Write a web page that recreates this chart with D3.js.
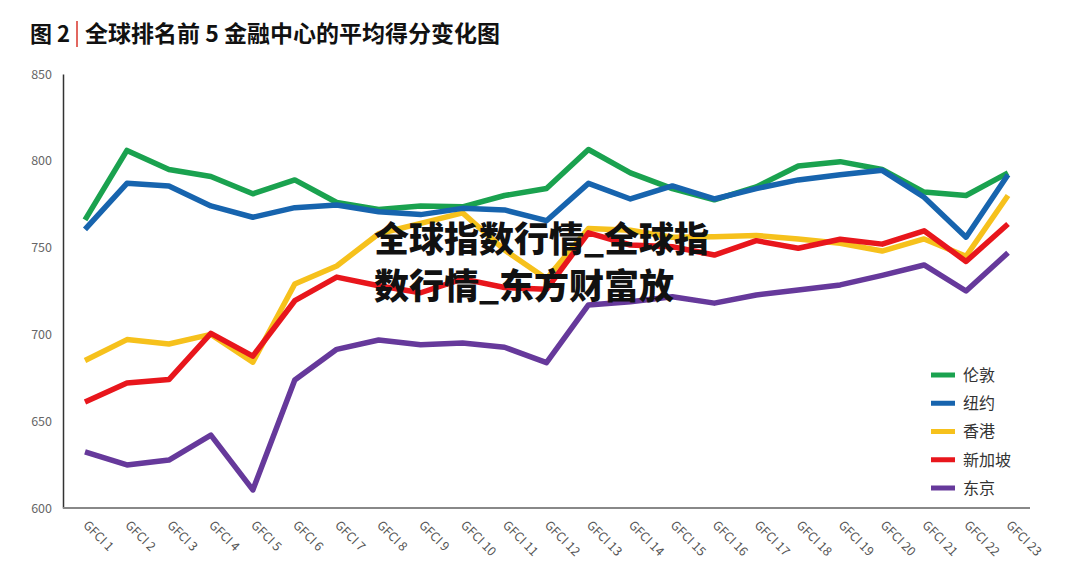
<!DOCTYPE html>
<html>
<head>
<meta charset="utf-8">
<script src="https://cdn.jsdelivr.net/npm/d3@7"></script>
<style>
  html, body { margin: 0; padding: 0; background: #fff; }
  svg { display: block; }
  text { font-family: "Noto Sans CJK SC", "Noto Sans", sans-serif; }
</style>
</head>
<body>
<svg id="chart" width="1080" height="584"></svg>
<script>
const categories = d3.range(1, 24).map(i => "GFCI " + i);
const yTicks = [600, 650, 700, 750, 800, 850];
const seriesNames = ["伦敦", "纽约", "香港", "新加坡", "东京"];
const seriesColors = ["#1aa24f", "#1764ae", "#f6c11c", "#e8161c", "#66399b"];

const london    = [766, 806, 795, 791, 781, 789, 776, 772, 774, 773.5, 780, 784, 806.5, 793, 784, 777.5, 785, 797, 799.5, 795, 782, 780, 793];
const newYork   = [760.5, 787, 785.5, 774, 767.5, 773, 774.5, 770.7, 769, 772.6, 771.7, 765.5, 787, 778, 785.5, 778, 784, 789, 792, 794.5, 779, 756, 792];
const hongKong  = [685, 697, 694.5, 700, 684, 729, 739.4, 758, 764, 770, 748.6, 732, 761, 760, 756, 756.3, 757, 755, 752.5, 748, 755, 745, 780];
const singapore = [661, 672, 674, 700.6, 687.5, 719.4, 733, 728, 724, 732, 727, 726, 758.5, 751.5, 750.5, 745.7, 754, 749.6, 754.8, 752, 759.7, 742, 763.6];
const tokyo     = [632.4, 624.8, 627.6, 642, 610.4, 673.7, 691.4, 696.8, 694, 695, 692.6, 683.7, 717, 718.8, 721.7, 718, 722.7, 725.6, 728.5, 734, 740, 725, 747];

const seriesValues = [london, newYork, hongKong, singapore, tokyo];
const titleBold = "图 2";
const titleText = "全球排名前 5 金融中心的平均得分变化图";
const overlayLines = ["全球指数行情_全球指", "数行情_东方财富放"];

const svg = d3.select("#chart");

const x = d3.scalePoint().domain(categories).range([85, 1008]);
const y = d3.scaleLinear().domain([600, 850]).range([508, 74]);

// Title
svg.append("text").attr("x", 30).attr("y", 42)
  .attr("font-size", 22).attr("font-weight", "bold").attr("fill", "#111")
  .text(titleBold);
svg.append("line").attr("x1", 77).attr("x2", 77).attr("y1", 21).attr("y2", 47)
  .attr("stroke", "#d9342b").attr("stroke-width", 1.5);
svg.append("text").attr("x", 85).attr("y", 42)
  .attr("font-size", 23).attr("font-weight", "bold").attr("fill", "#111")
  .attr("textLength", 415).attr("lengthAdjust", "spacing")
  .text(titleText);

// Y axis
const yAxis = d3.axisLeft(y).tickValues(yTicks).tickSize(0).tickPadding(11);
const gy = svg.append("g").attr("transform", "translate(63,0)").call(yAxis);
gy.select(".domain").attr("stroke", "#333").attr("stroke-width", 1.5);
gy.selectAll("text").attr("font-size", 12.5).attr("fill", "#666")
  .attr("font-family", "'Liberation Sans Narrow', 'DejaVu Sans Condensed', sans-serif");

// X axis
const xAxis = d3.axisBottom(x).tickSize(0).tickPadding(0);
const gx = svg.append("g").attr("transform", "translate(0,508)").call(xAxis);
gx.select(".domain").remove();
svg.append("line").attr("x1", 63).attr("x2", 1030).attr("y1", 508).attr("y2", 508)
  .attr("stroke", "#888").attr("stroke-width", 2);
gx.selectAll(".tick text")
  .attr("font-size", 12.5).attr("fill", "#555")
  .attr("font-family", "'Liberation Sans Narrow', 'DejaVu Sans Condensed', sans-serif")
  .attr("text-anchor", "start")
  .attr("dy", 0)
  .attr("transform", "translate(-3,18) rotate(45)");

// Lines
const line = d3.line().x((d, i) => x(categories[i])).y(d => y(d));
const drawOrder = [2, 3, 0, 1, 4];
drawOrder.forEach(k => {
  svg.append("path").datum(seriesValues[k])
    .attr("d", line).attr("fill", "none")
    .attr("stroke", seriesColors[k]).attr("stroke-width", 5.5)
    .attr("stroke-linejoin", "round").attr("stroke-linecap", "butt");
});

// Legend
const legendY = d3.scalePoint().domain(seriesNames).range([375, 488]);
const lg = svg.append("g");
seriesNames.forEach((name, k) => {
  lg.append("line").attr("x1", 931).attr("x2", 955)
    .attr("y1", legendY(name)).attr("y2", legendY(name))
    .attr("stroke", seriesColors[k]).attr("stroke-width", 5);
  lg.append("text").attr("x", 963).attr("y", legendY(name)).attr("dy", "0.36em")
    .attr("font-size", 16).attr("fill", "#333").text(name);
});

// Overlay text
overlayLines.forEach((t, i) => {
  svg.append("text").attr("x", 374).attr("y", 252 + i * 47)
    .attr("font-size", 35).attr("font-weight", 900).attr("fill", "#111")
    .text(t);
});
</script>
</body>
</html>
